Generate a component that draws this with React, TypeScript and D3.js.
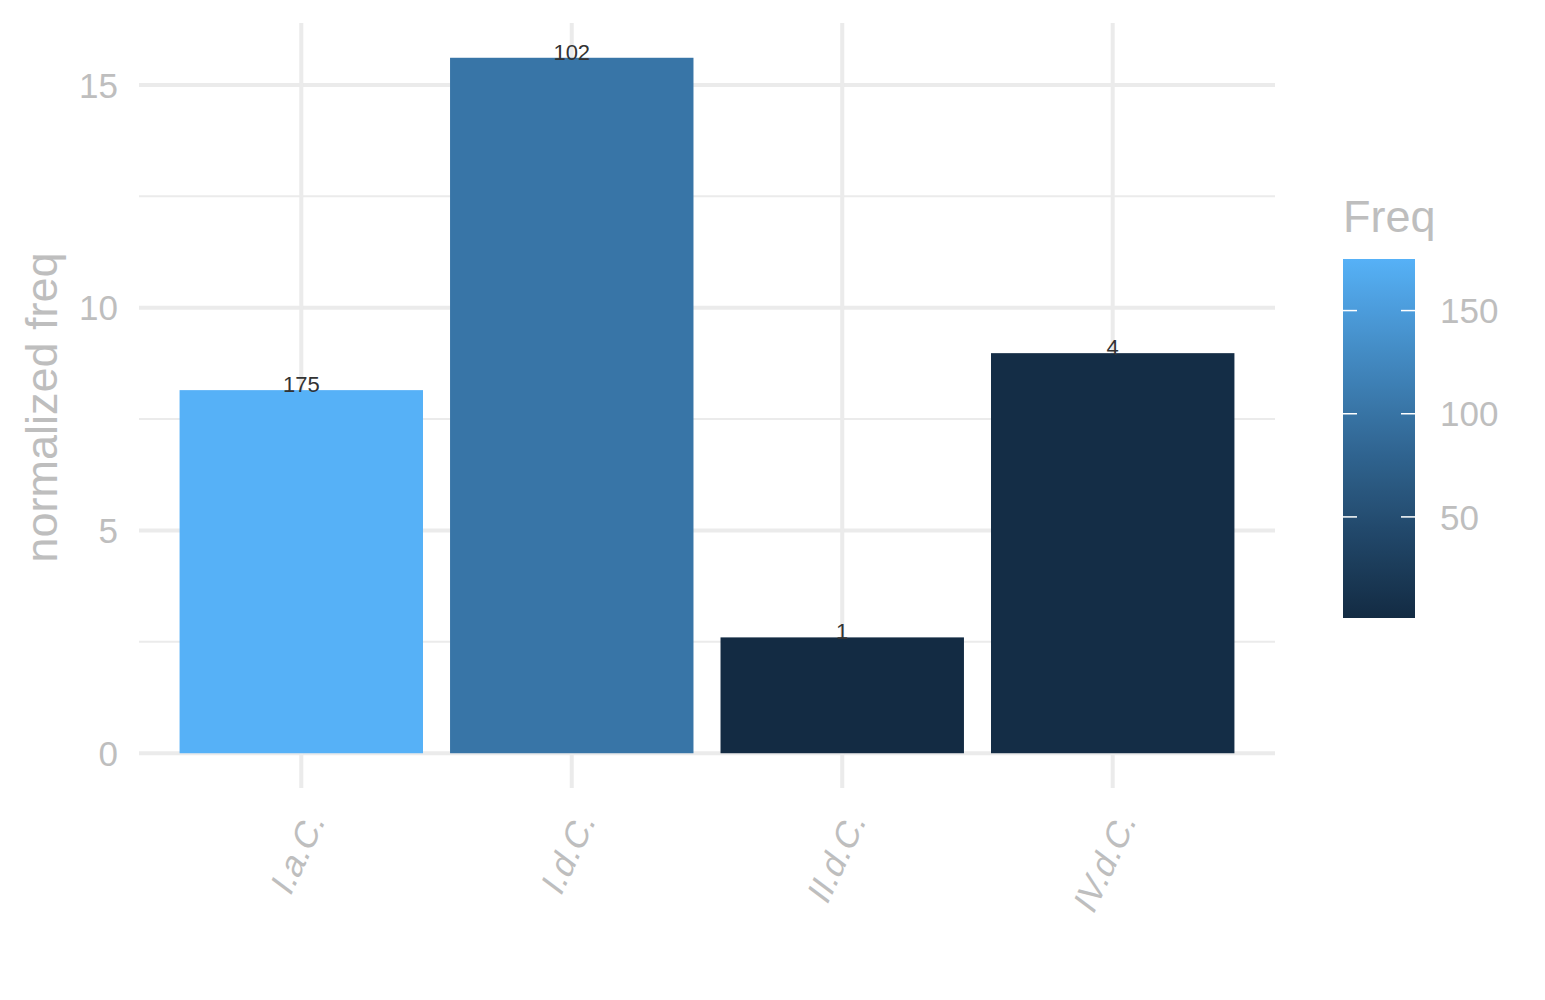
import React from 'react';
import * as d3 from 'd3';

const categories = ['I.a.C.', 'I.d.C.', 'II.d.C.', 'IV.d.C.'];
const normFreq = [8.15, 15.61, 2.6, 8.98];
const freq = [175, 102, 1, 4];
const yTicks = [0, 5, 10, 15];
const yMinor = [2.5, 7.5, 12.5];
const legendTicks = [50, 100, 150];

const W = 1545;
const H = 1000;
const grey = '#BEBEBE';
const gridCol = '#EBEBEB';
const font = '"Liberation Sans", Arial, Helvetica, sans-serif';

const App: React.FC = () => {
  const panel = { left: 139, right: 1275, top: 23, bottom: 788 };

  // discrete x with ggplot-like 0.6 expansion
  const n = categories.length;
  const step = (panel.right - panel.left) / (n - 1 + 1.2);
  const xCenter = (i: number) => panel.left + step * (0.6 + i);
  const barW = step * 0.9;

  const yMax = d3.max(normFreq) as number;
  const y = d3.scaleLinear()
    .domain([-yMax * 0.05, yMax * 1.05])
    .range([panel.bottom, panel.top]);

  const fExt = d3.extent(freq) as [number, number];
  const color = d3.scaleLinear<string>()
    .domain(fExt)
    .range(['#132B43', '#56B1F7'])
    .interpolate(d3.interpolateLab);

  // legend colourbar
  const bar = { x: 1343, w: 72, top: 259, bottom: 618 };
  const ly = d3.scaleLinear().domain(fExt).range([bar.bottom, bar.top]);
  const stops = d3.range(0, 1.0001, 0.05);

  return (
    <svg width={W} height={H} style={{ display: 'block', position: 'absolute', left: 0, top: 0 }}
      fontFamily={font}>
      <rect width={W} height={H} fill="white" />
      <defs>
        <linearGradient id="fillbar" x1="0" y1="1" x2="0" y2="0">
          {stops.map((t) => (
            <stop key={t} offset={t} stopColor={color(fExt[0] + t * (fExt[1] - fExt[0]))} />
          ))}
        </linearGradient>
      </defs>

      {/* grid */}
      {yMinor.map((v) => (
        <line key={'mn' + v} x1={panel.left} x2={panel.right} y1={y(v)} y2={y(v)}
          stroke={gridCol} strokeWidth={2} />
      ))}
      {yTicks.map((v) => (
        <line key={'mj' + v} x1={panel.left} x2={panel.right} y1={y(v)} y2={y(v)}
          stroke={gridCol} strokeWidth={4} />
      ))}
      {categories.map((c, i) => (
        <line key={'vx' + c} x1={xCenter(i)} x2={xCenter(i)} y1={panel.top} y2={panel.bottom}
          stroke={gridCol} strokeWidth={4} />
      ))}

      {/* bars */}
      {categories.map((c, i) => (
        <rect key={'b' + c} x={xCenter(i) - barW / 2} width={barW}
          y={y(normFreq[i])} height={y(0) - y(normFreq[i])} fill={color(freq[i])} />
      ))}
      {categories.map((c, i) => (
        <text key={'t' + c} x={xCenter(i)} y={y(normFreq[i]) + 2} textAnchor="middle"
          fontSize={22} fill="#333333">{freq[i]}</text>
      ))}

      {/* y axis */}
      {yTicks.map((v) => (
        <text key={'yl' + v} x={118} y={y(v)} dy="0.36em" textAnchor="end" fontSize={35} fill={grey}>
          {v}
        </text>
      ))}
      <text transform={`translate(57,${(panel.top + panel.bottom) / 2 + 2}) rotate(-90)`}
        textAnchor="middle" fontSize={45} fill={grey}>normalized freq</text>

      {/* x axis */}
      {categories.map((c, i) => (
        <text key={'xl' + c} transform={`translate(${xCenter(i) + 24},${822}) rotate(-65) skewX(-12)`}
          textAnchor="end" fontSize={35} fill={grey}>{c}</text>
      ))}

      {/* legend */}
      <text x={bar.x} y={232} fontSize={45} fill={grey}>Freq</text>
      <rect x={bar.x} y={bar.top} width={bar.w} height={bar.bottom - bar.top} fill="url(#fillbar)" />
      {legendTicks.map((v) => (
        <g key={'lt' + v}>
          <line x1={bar.x} x2={bar.x + 14} y1={ly(v)} y2={ly(v)} stroke="white" strokeWidth={1.5} />
          <line x1={bar.x + bar.w - 14} x2={bar.x + bar.w} y1={ly(v)} y2={ly(v)} stroke="white" strokeWidth={1.5} />
          <text x={1440} y={ly(v)} dy="0.36em" fontSize={35} fill={grey}>{v}</text>
        </g>
      ))}
    </svg>
  );
};

export default App;
